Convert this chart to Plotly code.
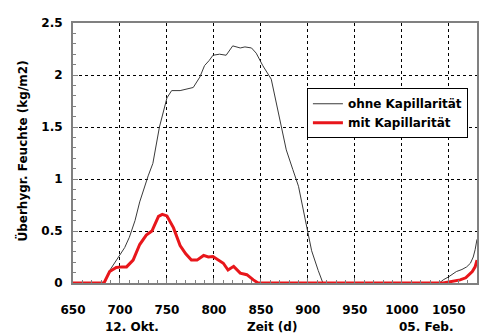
import plotly.graph_objects as go

# Time (d) and moisture (kg/m2)
t_ohne = [650, 683, 689, 700, 705, 710, 716, 721, 726, 730, 735, 742, 750, 755, 764, 770, 778, 785,
          790, 795, 799, 806, 813, 820, 828, 833, 840, 845, 852, 861, 866, 872, 877, 884, 890,
          899, 904, 911, 916, 1040, 1044, 1050, 1058, 1064, 1069, 1073, 1076, 1078, 1080]
w_ohne = [0, 0, 0.12, 0.28, 0.34, 0.44, 0.6, 0.78, 0.93, 1.03, 1.15, 1.5, 1.78, 1.85, 1.85, 1.86, 1.88, 1.98,
          2.09, 2.14, 2.19, 2.2, 2.19, 2.28, 2.26, 2.27, 2.26, 2.21, 2.09, 1.96, 1.74, 1.5, 1.28, 1.09, 0.93,
          0.53, 0.31, 0.12, 0, 0, 0.03, 0.06, 0.11, 0.13, 0.155, 0.19, 0.25, 0.32, 0.42]

t_mit = [650, 683, 689, 696, 702, 707, 714, 721, 728, 734, 741, 745, 750, 753, 757, 764, 770, 776, 782,
         789, 794, 799, 805, 810, 815, 821, 828, 835, 842, 847, 1044, 1055, 1062, 1068, 1072, 1075, 1078, 1080]
w_mit = [0, 0, 0.11, 0.15, 0.155, 0.155, 0.22, 0.37, 0.46, 0.5, 0.64, 0.66, 0.645, 0.6, 0.53, 0.36, 0.28, 0.22, 0.22,
         0.265, 0.25, 0.255, 0.22, 0.19, 0.125, 0.16, 0.095, 0.08, 0.03, 0, 0, 0.02, 0.03, 0.05, 0.08, 0.11, 0.155, 0.22]

x_ticks = [650, 700, 750, 800, 850, 900, 950, 1000, 1050]
y_ticks = [0, 0.5, 1, 1.5, 2, 2.5]
y_tick_labels = ["0", "0.5", "1", "1.5", "2", "2.5"]

font = "DejaVu Sans, Arial, sans-serif"
bold12 = dict(family=font, size=12, color="black", weight="bold")

fig = go.Figure()
fig.add_trace(go.Scatter(x=t_ohne, y=w_ohne, mode="lines", name="ohne Kapillarität",
                         line=dict(color="#3a3a3a", width=1)))
fig.add_trace(go.Scatter(x=t_mit, y=w_mit, mode="lines", name="mit Kapillarität",
                         line=dict(color="#e8161b", width=3)))

# page has an 8px body margin, so the figure is sized 8px smaller
fig.update_layout(
    width=486, height=325,
    margin=dict(l=65, r=17, t=8, b=50),
    paper_bgcolor="white", plot_bgcolor="white",
    font=bold12,
    showlegend=True,
    legend=dict(x=0.579, y=0.749, xanchor="left", yanchor="top",
                bgcolor="white", bordercolor="black", borderwidth=1,
                font=bold12, tracegroupgap=0),
)
axis_common = dict(
    tickfont=bold12,
    showgrid=True, gridcolor="black", griddash="dot", gridwidth=1,
    showline=True, linecolor="#808080", linewidth=2, mirror=True,
    ticks="inside", ticklen=5, tickcolor="#808080",
    zeroline=False,
)
fig.update_xaxes(
    range=[650, 1080], tickvals=x_ticks, ticklabelstandoff=15,
    minor=dict(dtick=10, ticks="inside", ticklen=3, tickcolor="#808080", showgrid=False),
    **axis_common,
)
fig.update_yaxes(
    range=[0, 2.5], tickvals=y_ticks, ticktext=y_tick_labels, ticklabelstandoff=6,
    minor=dict(dtick=0.1, ticks="inside", ticklen=3, tickcolor="#808080", showgrid=False),
    **axis_common,
)

fig.add_annotation(x=-0.126, xref="paper", y=0.506, yref="paper", textangle=-90,
                   text="Überhygr. Feuchte (kg/m2)", showarrow=False,
                   xanchor="center", yanchor="middle", font=bold12)

for txt, xp in [("12. Okt.", 0.074), ("Zeit (d)", 0.4926), ("05. Feb.", 0.9455)]:
    fig.add_annotation(x=xp, xref="paper", y=-0.168, yref="paper", yanchor="middle",
                       text=txt, showarrow=False, font=bold12)

fig.write_html("out.html")
